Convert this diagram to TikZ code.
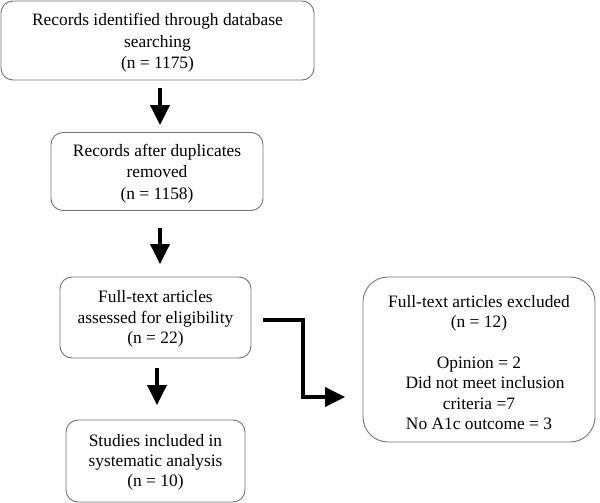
\documentclass[tikz,border=0pt]{standalone}
\usepackage{fontspec}
\setmainfont{Liberation Serif}
\usetikzlibrary{arrows.meta}
\begin{document}
\begin{tikzpicture}[x=1pt,y=-1pt,
  box/.style={draw=black!55, line width=0.9pt, rounded corners=12pt, inner sep=0pt},
  txt/.style={inner sep=0pt, align=center, font=\fontsize{17.4}{21.3}\selectfont},
  flow/.style={line width=3.6pt, -{Triangle[length=20pt,width=19pt]}},
  flowshadow/.style={line width=3.6pt, draw=black!25, -{Triangle[length=20pt,width=19pt]}}]
\useasboundingbox (0,0) rectangle (600,503);
\node[box, minimum width=313pt, minimum height=79pt] (b1) at (157.5,40.5) {};
\node[box, minimum width=212pt, minimum height=78pt] (b2) at (157,171.5) {};
\node[box, minimum width=191pt, minimum height=81pt] (b3) at (155.5,317.5) {};
\node[box, minimum width=179pt, minimum height=82pt] (b4) at (155.5,461) {};
\node[box, rounded corners=25pt, minimum width=232pt, minimum height=165pt] (b5) at (479,359.5) {};
\node[txt] (t1) at ([yshift=-2.5pt]b1.center) {Records identified through database\\searching\\(n = 1175)};
\node[txt] (t2) at ([yshift=-2pt]b2.center) {Records after duplicates\\removed\\(n = 1158)};
\node[txt, font=\fontsize{17.4}{20.6}\selectfont] (t3) at ([yshift=-1.5pt]b3.center) {Full-text articles\\assessed for eligibility\\(n = 22)};
\node[txt, font=\fontsize{17.4}{20.3}\selectfont] (t4) at ([yshift=-1.5pt]b4.center) {Studies included in\\systematic analysis\\(n = 10)};
\node[txt, font=\fontsize{17.4}{20.3}\selectfont] (t5) at ([yshift=-3pt]b5.center)
  {Full-text articles excluded\\(n = 12)\\[20.3pt]Opinion = 2\\\hspace*{12pt}Did not meet inclusion\\criteria =7\\No A1c outcome = 3};
\coordinate (a1s) at (160,88);
\coordinate (a1e) at (160,125);
\coordinate (a2s) at (160,228);
\coordinate (a2e) at (160,264);
\coordinate (a3s) at (157,368);
\coordinate (a3e) at (157,405);
\coordinate (e1) at (263,320);
\coordinate (e2) at (303,320);
\coordinate (e3) at (303,397);
\coordinate (e4) at (345,397);
\begin{scope}[shift={(1.5,2)}]
\draw[flowshadow] (a1s) -- (a1e);
\draw[flowshadow] (a2s) -- (a2e);
\draw[flowshadow] (a3s) -- (a3e);
\draw[flowshadow] (e1) -- (e2) -- (e3) -- (e4);
\end{scope}
\draw[flow] (a1s) -- (a1e);
\draw[flow] (a2s) -- (a2e);
\draw[flow] (a3s) -- (a3e);
\draw[flow] (e1) -- (e2) -- (e3) -- (e4);
\end{tikzpicture}
\end{document}
